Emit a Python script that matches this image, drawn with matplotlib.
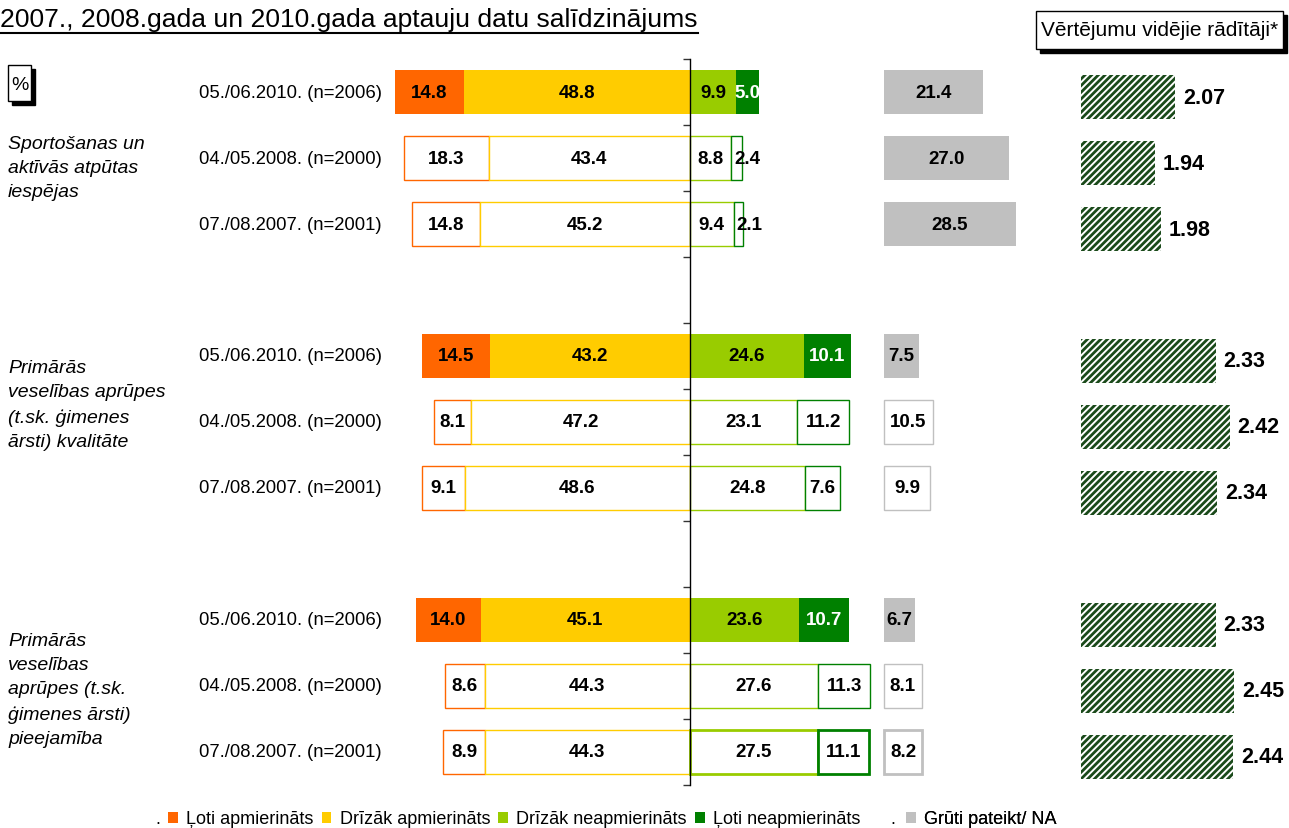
import matplotlib.pyplot as plt
import matplotlib.transforms as mtransforms
from matplotlib.patches import Patch, Rectangle

plt.rcParams["font.family"] = ["Liberation Sans", "DejaVu Sans"]
plt.rcParams["hatch.linewidth"] = 2.0

# data (rows: 2010, 2008, 2007 for each topic)
title = "2007., 2008.gada un 2010.gada aptauju datu salīdzinājums"
topics = [
    "Sportošanas un\naktīvās atpūtas\niespējas",
    "Primārās\nveselības aprūpes\n(t.sk. ģimenes\nārsti) kvalitāte",
    "Primārās\nveselības\naprūpes (t.sk.\nģimenes ārsti)\npieejamība",
]
waves = ["05./06.2010. (n=2006)", "04./05.2008. (n=2000)", "07./08.2007. (n=2001)"]
categories = ["Ļoti apmierināts", "Drīzāk apmierināts", "Drīzāk neapmierināts", "Ļoti neapmierināts"]
na_label = "Grūti pateikt/ NA"

very_satisfied = [14.8, 18.3, 14.8, 14.5, 8.1, 9.1, 14.0, 8.6, 8.9]
rather_satisfied = [48.8, 43.4, 45.2, 43.2, 47.2, 48.6, 45.1, 44.3, 44.3]
rather_dissatisfied = [9.9, 8.8, 9.4, 24.6, 23.1, 24.8, 23.6, 27.6, 27.5]
very_dissatisfied = [5.0, 2.4, 2.1, 10.1, 11.2, 7.6, 10.7, 11.3, 11.1]
hard_to_say = [21.4, 27.0, 28.5, 7.5, 10.5, 9.9, 6.7, 8.1, 8.2]
mean_scores = [2.07, 1.94, 1.98, 2.33, 2.42, 2.34, 2.33, 2.45, 2.44]

colors = ["#FF6600", "#FFCC00", "#99CC00", "#008000"]
na_color = "#C0C0C0"
hatch_green = "#1A4A1A"

W, H = 1289, 829
fig = plt.figure(figsize=(W / 100, H / 100), dpi=100)

px_per_unit = 4.637
zero_px = 690
ax = fig.add_axes([0, 43 / H, 1, 726 / H])
ax.set_xlim(-zero_px / px_per_unit, (W - zero_px) / px_per_unit)
ax.set_ylim(10.5, -0.5)
na_left = (884 - zero_px) / px_per_unit
bar_h = 0.67

rows = [g * 4 + w for g in range(len(topics)) for w in range(len(waves))]


def seg(y, left, width, color, filled, lw=1.0, txt_color="black"):
    if filled:
        ax.barh(y, width, left=left, height=bar_h, color=color, edgecolor="none")
    else:
        ax.barh(y, width, left=left, height=bar_h, color="white", edgecolor=color, linewidth=lw)
    if width >= 3:
        ax.text(left + width / 2, y, f"{width:.1f}", ha="center", va="center",
                fontsize=13.5, fontweight="bold", color=txt_color)
    else:
        ax.text(left + width * 0.3, y, f"{width:.1f}", ha="left", va="center",
                fontsize=13.5, fontweight="bold", color=txt_color)


for i, y in enumerate(rows):
    filled = (i % 3 == 0)
    thick = 2.0 if i == len(rows) - 1 else 1.0
    vs, rs = very_satisfied[i], rather_satisfied[i]
    rd, vd = rather_dissatisfied[i], very_dissatisfied[i]
    seg(y, -(vs + rs), vs, colors[0], filled)
    seg(y, -rs, rs, colors[1], filled)
    seg(y, 0, rd, colors[2], filled, lw=thick)
    seg(y, rd, vd, colors[3], filled, lw=thick, txt_color="white" if filled else "black")
    seg(y, na_left, hard_to_say[i], na_color, filled or i < 3, lw=thick)

for s in ["top", "right", "bottom"]:
    ax.spines[s].set_visible(False)
ax.spines["left"].set_position(("data", 0))
ax.spines["left"].set_linewidth(1.0)
ax.set_xticks([])
ax.set_yticks([r - 0.5 for r in range(12)])
ax.set_yticklabels([])
ax.tick_params(axis="y", direction="out", length=5, width=1, color="#333333")

# row and topic labels
lab_tr = mtransforms.blended_transform_factory(fig.transFigure, ax.transData)
for i, y in enumerate(rows):
    ax.text(382 / W, y, waves[i % 3], transform=lab_tr, ha="right", va="center", fontsize=13.3)
topic_y = [1.14, 4.74, 9.05]
for t, ty in zip(topics, topic_y):
    ax.text(8 / W, ty, t, transform=lab_tr, ha="left", va="center", fontsize=14,
            fontstyle="italic", linespacing=1.55)

# mean scores
mean_base = 1.467
mean_px = 156
max_ax = fig.add_axes([1081 / W, (43 - 5) / H, (W - 1081) / W, 726 / H])
max_ax.set_xlim(mean_base, mean_base + (W - 1081) / mean_px)
max_ax.set_ylim(10.5, -0.5)
max_ax.axis("off")
max_ax.barh(rows, mean_scores, height=bar_h, color="white", edgecolor=hatch_green,
            hatch="/////", linewidth=0)
for y, m in zip(rows, mean_scores):
    max_ax.text(m + 8 / mean_px, y, f"{m:.2f}", ha="left", va="center",
                fontsize=15.5, fontweight="bold")

# title with underline
t = fig.text(0, 1 - 8 / H, title, fontsize=20, va="top", ha="left")
fig.canvas.draw()
bb = t.get_window_extent()
t.set_fontsize(20 * 695 / bb.width)
fig.canvas.draw()
bb = t.get_window_extent()
fig.add_artist(plt.Line2D([0, bb.x1 / W], [(bb.y0 - 2) / H] * 2, color="black", lw=1.5,
                          transform=fig.transFigure))


# boxes with shadow
def shadow_box(x0, y0, x1, y1):
    fig.add_artist(Rectangle((x0 / W + 4 / W, 1 - (y1 + 4) / H), (x1 - x0) / W, (y1 - y0) / H,
                             transform=fig.transFigure, facecolor="black", edgecolor="black"))
    fig.add_artist(Rectangle((x0 / W, 1 - y1 / H), (x1 - x0) / W, (y1 - y0) / H,
                             transform=fig.transFigure, facecolor="white", edgecolor="black", lw=1))


shadow_box(8, 66, 31, 102)
fig.text(19.5 / W, 1 - 86 / H, "%", ha="center", va="center", fontsize=14)
shadow_box(1036, 12, 1283, 50)
fig.text(1160 / W, 1 - 31 / H, "Vērtējumu vidējie rādītāji*", ha="center", va="center", fontsize=15)

# legend
handles = [Patch(facecolor=c, edgecolor="none") for c in colors]
leg_kw = dict(frameon=False, borderpad=0, borderaxespad=0, handlelength=0.55, handleheight=0.55,
              handletextpad=0.45, columnspacing=0.45, fontsize=13)
fig.legend(handles, categories, loc="center left", bbox_to_anchor=(168 / W, 1 - 820 / H), ncol=4, **leg_kw)
leg2 = fig.legend([Patch(facecolor=na_color, edgecolor="none")], [na_label], loc="center left",
                  bbox_to_anchor=(906 / W, 1 - 820 / H), **leg_kw)
fig.add_artist(leg2)
fig.text(155 / W, 1 - 820 / H, ".", ha="left", va="center", fontsize=13)
fig.text(890 / W, 1 - 820 / H, ".", ha="left", va="center", fontsize=13)

fig.savefig("out.png", dpi=100)
